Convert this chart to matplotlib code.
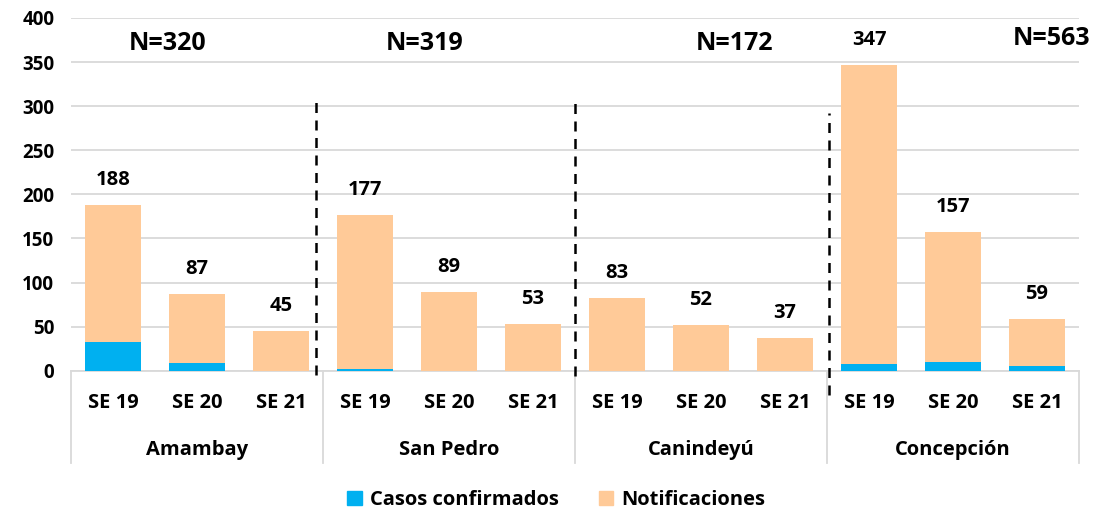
import matplotlib
import numpy as np

matplotlib.use('Agg')
import matplotlib.pyplot as plt
from matplotlib.patches import Patch

plt.rcParams['font.family'] = ['Open Sans', 'DejaVu Sans']
plt.rcParams['font.weight'] = 'bold'

# datos
semanas = ['SE 19', 'SE 20', 'SE 21']
departamentos = ['Amambay', 'San Pedro', 'Canindeyú', 'Concepción']
totales = [188, 87, 45, 177, 89, 53, 83, 52, 37, 347, 157, 59]
confirmados = [33, 9, 0, 2, 0, 0, 0, 0, 0, 8, 10, 5]
n_totales = [320, 319, 172, 563]

azul = '#00B0F0'
durazno = '#FFCA98'
gris = '#d9d9d9'

x = np.arange(len(totales))
notificaciones = np.array(totales) - np.array(confirmados)

fig = plt.figure(figsize=(10.97, 5.14), dpi=100)
ax = fig.add_axes([0.0647, 0.2788, 0.9189, 0.6862])

ax.bar(x, confirmados, width=0.667, color=azul, zorder=3)
ax.bar(x, notificaciones, width=0.667, bottom=confirmados, color=durazno, zorder=3)

# etiquetas de totales
for xi, t in zip(x, totales):
    ax.annotate(str(t), (xi, t), xytext=(0, 18), textcoords='offset points',
                ha='center', va='center', fontsize=14.5, fontweight='bold')

ax.set_xlim(-0.5, len(totales) - 0.5)
ax.set_ylim(0, 400)
ax.set_yticks(np.arange(0, 401, 50))
ax.tick_params(axis='y', length=0, pad=12, labelsize=13.5)
ax.tick_params(axis='x', length=0, labelbottom=False)
for lab in ax.get_yticklabels():
    lab.set_fontweight('bold')
ax.grid(axis='y', color=gris, linewidth=1.3, zorder=0)
for s in ['left', 'right', 'top']:
    ax.spines[s].set_visible(False)
ax.spines['bottom'].set_color(gris)
ax.spines['bottom'].set_linewidth(1.3)

# eje de categorias de dos niveles
tr = ax.get_xaxis_transform()
for b in np.arange(-0.5, len(totales), 3):
    ax.plot([b, b], [0, -0.262], transform=tr, color=gris, lw=1.3, clip_on=False)
for xi in x:
    ax.text(xi, -0.092, semanas[xi % 3], transform=tr, ha='center', va='center',
            fontsize=14.5, fontweight='bold')
for g, dep in enumerate(departamentos):
    ax.text(3 * g + 1, -0.225, dep, transform=tr, ha='center', va='center',
            fontsize=14.5, fontweight='bold')

# lineas divisorias
divisiones = [(2.42, 312, -5), (5.5, 311, -6), (8.52, 292, -27)]
for xd, y_top, y_bot in divisiones:
    ax.plot([xd, xd], [y_bot, y_top], color='black', lw=1.8, linestyle=(0, (4, 3)),
            clip_on=False, zorder=4)

# N por departamento
n_pos = [(0.65, 371), (3.71, 371), (7.4, 371), (11.17, 377)]
for (xn, yn), n in zip(n_pos, n_totales):
    ax.text(xn, yn, f'N={n}', ha='center', va='center', fontsize=18,
            fontweight='bold', clip_on=False)

handles = [Patch(color=azul, label='Casos confirmados'),
           Patch(color=durazno, label='Notificaciones')]
fig.legend(handles=handles, loc='center', bbox_to_anchor=(0.507, 0.027), ncol=2,
           frameon=False, prop={'size': 14.5, 'weight': 'bold'}, handlelength=0.7,
           handleheight=0.7, handletextpad=0.4, columnspacing=2.0)

plt.savefig('out.png', dpi=100)
